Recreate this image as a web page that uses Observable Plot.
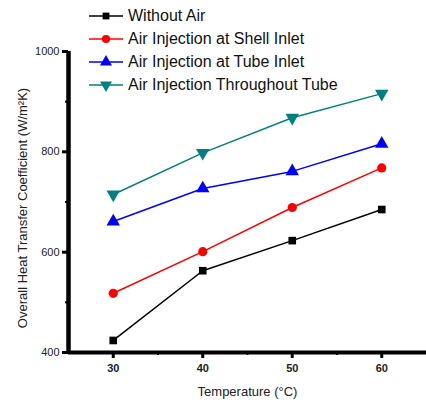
<!DOCTYPE html>
<html>
<head>
<meta charset="utf-8">
<script src="https://cdn.jsdelivr.net/npm/d3@7"></script>
<script src="https://cdn.jsdelivr.net/npm/@observablehq/plot@0.6"></script>
<style>
  html, body { margin: 0; padding: 0; background: #fff; }
  #wrap { position: relative; width: 426px; height: 403px; font-family: "Liberation Sans", Arial, sans-serif; }
  #legend { position: absolute; left: 86px; top: 5px; background: #fff; padding: 0 4px 2px 2px; }
  .row { display: flex; align-items: center; height: 22.8px; font-size: 16px; color: #111; white-space: nowrap; }
  .row svg { margin-right: 4px; }
</style>
</head>
<body>
<div id="wrap"><div id="legend"></div></div>
<script>
const temps = [30, 40, 50, 60];
const withoutAir = [424, 563, 623, 685];
const shellInlet = [518, 601, 689, 768];
const tubeInlet = [661, 727, 761, 816];
const throughoutTube = [715, 798, 868, 916];
const seriesNames = ["Without Air", "Air Injection at Shell Inlet", "Air Injection at Tube Inlet", "Air Injection Throughout Tube"];
const seriesColors = ["#000000", "#ff0000", "#0000ff", "#008080"];
const yTicks = [400, 600, 800, 1000];
const yMinor = [500, 700, 900];
const xTicks = [30, 40, 50, 60];
const xMinor = [35, 45, 55];
const xLabel = "Temperature (\u00B0C)";
const yLabel = "Overall Heat Transfer Coefficient (W/m\u00B2K)";

const triangleDown = {
  draw(ctx, size) {
    const y = -Math.sqrt(size / (Math.sqrt(3) * 3));
    ctx.moveTo(0, -y * 2);
    ctx.lineTo(-Math.sqrt(3) * y, y);
    ctx.lineTo(Math.sqrt(3) * y, y);
    ctx.closePath();
  }
};
const seriesSymbols = ["square", "circle", "triangle", triangleDown];
const seriesR = [4.3, 4.6, 5, 5];

const allValues = [withoutAir, shellInlet, tubeInlet, throughoutTube];
const data = [];
allValues.forEach((vals, i) => temps.forEach((t, j) => data.push({series: seriesNames[i], idx: i, t, v: vals[j]})));

const marks = [];
marks.push(Plot.ruleY([400], {stroke: "#000", strokeWidth: 4}));
marks.push(Plot.ruleX([25], {y1: 400, y2: 1000, stroke: "#000", strokeWidth: 4.5}));
marks.push(Plot.axisY(yTicks, {tickSize: 6, tickPadding: 3, strokeWidth: 3, fontSize: 11, label: null, fill: "#222", tickFormat: d => String(d)}));
marks.push(Plot.axisY(yMinor, {tickSize: 3, strokeWidth: 2, text: null, label: null}));
marks.push(Plot.axisX(xTicks, {tickSize: 6, tickPadding: 6, strokeWidth: 3, fontSize: 11, fontWeight: "bold", label: null, fill: "#222", tickFormat: d => String(d)}));
marks.push(Plot.axisX(xMinor, {tickSize: 3, strokeWidth: 2, text: null, label: null}));
marks.push(Plot.text([yLabel], {frameAnchor: "left", textAnchor: "middle", rotate: -90, dx: -46, dy: 6, fontSize: 13, fill: "#222"}));
marks.push(Plot.text([xLabel], {frameAnchor: "bottom", textAnchor: "middle", dy: 43, fontSize: 13, fill: "#222"}));
seriesNames.forEach((name, i) => {
  const d = data.filter(r => r.idx === i);
  marks.push(Plot.line(d, {x: "t", y: "v", stroke: seriesColors[i], strokeWidth: 1.5}));
  marks.push(Plot.dot(d, {x: "t", y: "v", symbol: () => seriesSymbols[i], fill: seriesColors[i], stroke: "none", r: seriesR[i]}));
});

const chart = Plot.plot({
  width: 426,
  height: 403,
  marginLeft: 68,
  marginRight: 0,
  marginTop: 51,
  marginBottom: 51,
  style: {fontFamily: "'Liberation Sans', Arial, sans-serif", background: "#fff"},
  x: {domain: [25, 65]},
  y: {domain: [400, 1000]},
  symbol: {type: "identity"},
  marks
});
document.getElementById("wrap").prepend(chart);

const legend = document.getElementById("legend");
seriesNames.forEach((name, i) => {
  const row = document.createElement("div");
  row.className = "row";
  const svg = d3.create("svg").attr("width", 36).attr("height", 14);
  svg.append("line").attr("x1", 1).attr("x2", 35).attr("y1", 7).attr("y2", 7).attr("stroke", seriesColors[i]).attr("stroke-width", 1.5);
  const sym = typeof seriesSymbols[i] === "string"
    ? d3.symbol({square: d3.symbolSquare, circle: d3.symbolCircle, triangle: d3.symbolTriangle}[seriesSymbols[i]], Math.PI * seriesR[i] ** 2 * 0.8)
    : d3.symbol(seriesSymbols[i], Math.PI * seriesR[i] ** 2 * 0.8);
  svg.append("path").attr("d", sym()).attr("transform", "translate(18,7)").attr("fill", seriesColors[i]);
  row.appendChild(svg.node());
  const span = document.createElement("span");
  span.textContent = name;
  row.appendChild(span);
  legend.appendChild(row);
});
</script>
</body>
</html>
